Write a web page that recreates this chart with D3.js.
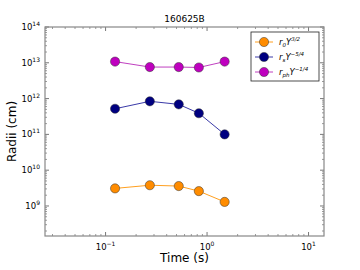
<!DOCTYPE html>
<html>
<head>
<meta charset="utf-8">
<script src="https://cdn.jsdelivr.net/npm/d3@7"></script>
<style>
  body { margin: 0; background: #fff; }
  text { font-family: "DejaVu Sans", sans-serif; }
</style>
</head>
<body>
<div id="chart"></div>
<script>
// data
const times = [0.124, 0.273, 0.526, 0.83, 1.49];
const r0 = [3.1e9, 3.8e9, 3.6e9, 2.6e9, 1.3e9];
const rs = [5.2e11, 8.4e11, 6.9e11, 3.9e11, 1.0e11];
const rph = [1.08e13, 7.6e12, 7.6e12, 7.4e12, 1.08e13];
const xTicks = [-1, 0, 1];
const yTicks = [9, 10, 11, 12, 13, 14];

const series = [
  { name: 'r0', values: r0, line: '#ffa020', fill: '#ff8c00', sub: '0', exp: '3/2' },
  { name: 'rs', values: rs, line: '#3a3aa8', fill: '#000080', sub: 's', exp: '\u22125/4' },
  { name: 'rph', values: rph, line: '#c040c0', fill: '#bf00bf', sub: 'ph', exp: '\u22121/4' }
];

const width = 360, height = 270;
const margin = { left: 45, right: 36, top: 27, bottom: 34 };
const iw = width - margin.left - margin.right;
const ih = height - margin.top - margin.bottom;

const svg = d3.select('#chart').append('svg')
  .attr('width', width)
  .attr('height', height);

const x = d3.scaleLog().domain([0.0253, 14.2]).range([0, iw]);
const y = d3.scaleLog().domain([1.45e8, 1e14]).range([ih, 0]);

const g = svg.append('g').attr('transform', 'translate(' + margin.left + ',' + margin.top + ')');

// minor + major ticks (inward, all four sides)
function minorVals(domain) {
  const out = [];
  const lo = Math.floor(Math.log10(domain[0])), hi = Math.ceil(Math.log10(domain[1]));
  for (let e = lo; e <= hi; e++) {
    for (let k = 2; k <= 9; k++) {
      const v = k * Math.pow(10, e);
      if (v > domain[0] && v < domain[1]) out.push(v);
    }
  }
  return out;
}
const tickColor = '#555';
const xMinor = minorVals(x.domain()), yMinor = minorVals(y.domain());
xMinor.forEach(v => {
  g.append('line').attr('x1', x(v)).attr('x2', x(v)).attr('y1', ih).attr('y2', ih - 2).attr('stroke', tickColor).attr('stroke-width', 0.6);
  g.append('line').attr('x1', x(v)).attr('x2', x(v)).attr('y1', 0).attr('y2', 2).attr('stroke', tickColor).attr('stroke-width', 0.6);
});
yMinor.forEach(v => {
  g.append('line').attr('y1', y(v)).attr('y2', y(v)).attr('x1', 0).attr('x2', 2).attr('stroke', tickColor).attr('stroke-width', 0.6);
  g.append('line').attr('y1', y(v)).attr('y2', y(v)).attr('x1', iw).attr('x2', iw - 2).attr('stroke', tickColor).attr('stroke-width', 0.6);
});
xTicks.forEach(e => {
  const v = Math.pow(10, e);
  g.append('line').attr('x1', x(v)).attr('x2', x(v)).attr('y1', ih).attr('y2', ih - 4).attr('stroke', tickColor).attr('stroke-width', 0.8);
  g.append('line').attr('x1', x(v)).attr('x2', x(v)).attr('y1', 0).attr('y2', 4).attr('stroke', tickColor).attr('stroke-width', 0.8);
  const t = g.append('text').attr('x', x(v)).attr('y', ih + 14).attr('text-anchor', 'middle').attr('font-size', 8.5).attr('fill', '#000');
  t.append('tspan').text('10');
  t.append('tspan').attr('dy', -4).attr('font-size', 6).text(e < 0 ? '\u2212' + (-e) : e);
});
yTicks.forEach(e => {
  const v = Math.pow(10, e);
  g.append('line').attr('y1', y(v)).attr('y2', y(v)).attr('x1', 0).attr('x2', 4).attr('stroke', tickColor).attr('stroke-width', 0.8);
  g.append('line').attr('y1', y(v)).attr('y2', y(v)).attr('x1', iw).attr('x2', iw - 4).attr('stroke', tickColor).attr('stroke-width', 0.8);
  const t = g.append('text').attr('x', -5).attr('y', y(v) + 3).attr('text-anchor', 'end').attr('font-size', 8.5).attr('fill', '#000');
  t.append('tspan').text('10');
  t.append('tspan').attr('dy', -4).attr('font-size', 6).text(e);
});

// frame
g.append('rect').attr('width', iw).attr('height', ih).attr('fill', 'none').attr('stroke', '#888').attr('stroke-width', 1.2);

// series
const line = d3.line().x(d => x(d[0])).y(d => y(d[1]));
series.forEach(s => {
  const pts = times.map((t, i) => [t, s.values[i]]);
  g.append('path').datum(pts).attr('d', line).attr('fill', 'none').attr('stroke', s.line).attr('stroke-width', 1);
  g.selectAll(null).data(pts).enter().append('circle')
    .attr('cx', d => x(d[0])).attr('cy', d => y(d[1])).attr('r', 4.6)
    .attr('fill', s.fill).attr('stroke', '#333').attr('stroke-width', 0.5);
});

// title and axis labels
svg.append('text').attr('x', margin.left + iw / 2).attr('y', 22).attr('text-anchor', 'middle').attr('font-size', 9).text('160625B');
svg.append('text').attr('x', margin.left + iw / 2).attr('y', 262).attr('text-anchor', 'middle').attr('font-size', 12).text('Time (s)');
svg.append('text').attr('transform', 'translate(16,' + (margin.top + ih / 2) + ') rotate(-90)').attr('text-anchor', 'middle').attr('font-size', 12).text('Radii (cm)');

// legend
const lg = svg.append('g').attr('transform', 'translate(251,32)');
lg.append('rect').attr('width', 68).attr('height', 49).attr('fill', '#fff').attr('stroke', '#222').attr('stroke-width', 0.8);
series.forEach((s, i) => {
  const yy = 10 + i * 15;
  lg.append('line').attr('x1', 4).attr('x2', 22).attr('y1', yy).attr('y2', yy).attr('stroke', s.line).attr('stroke-width', 1);
  lg.append('circle').attr('cx', 13).attr('cy', yy).attr('r', 4.6).attr('fill', s.fill).attr('stroke', '#333').attr('stroke-width', 0.5);
  const t = lg.append('text').attr('x', 28).attr('y', yy + 3).attr('font-size', 8.5)
    .attr('font-family', '"DejaVu Serif", serif').attr('font-style', 'italic');
  t.append('tspan').text('r');
  t.append('tspan').attr('dy', 2).attr('font-size', 5.5).text(s.sub);
  t.append('tspan').attr('dy', -2).text('Y');
  t.append('tspan').attr('dy', -4).attr('font-size', 5.5).text(s.exp);
});
</script>
</body>
</html>
